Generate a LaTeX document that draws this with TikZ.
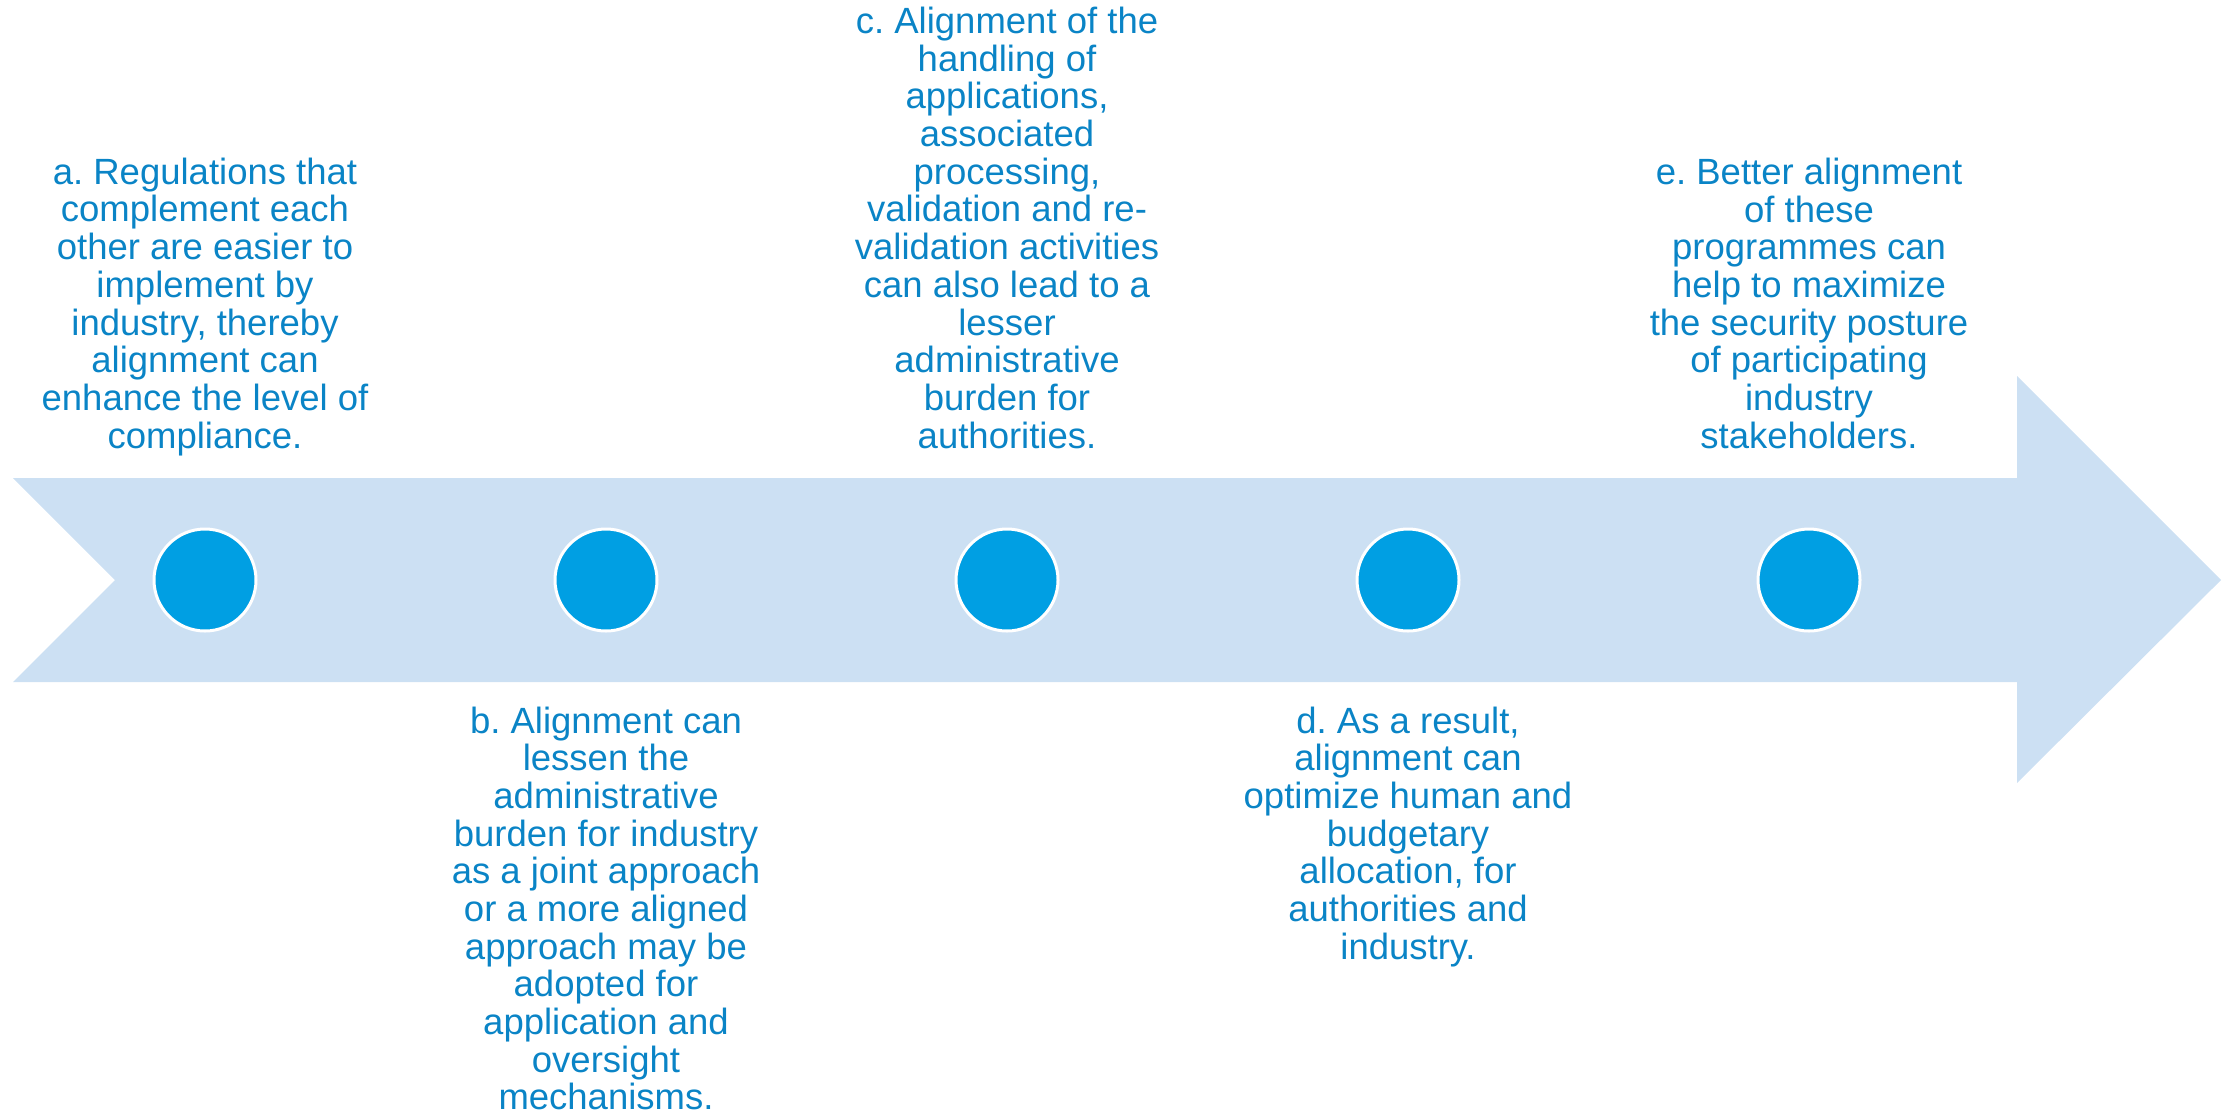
\documentclass[tikz,border=0pt]{standalone}
\usepackage{fontspec}
\setmainfont{Liberation Sans}
\frenchspacing
\definecolor{txtblue}{RGB}{10,132,198}
\definecolor{arrowfill}{RGB}{204,224,243}
\definecolor{dotblue}{RGB}{0,159,227}
\newcommand{\steptext}[2]{{\fontsize{36.5}{37.4}\selectfont\frenchspacing\renewcommand{\arraystretch}{1}\begin{tabular}[#1]{@{}c@{}}#2\end{tabular}}}
\tikzset{
  bodyarrow/.style={fill=arrowfill, draw=none},
  dot/.style={circle, fill=dotblue, draw=white, line width=3pt, minimum size=102pt, inner sep=0pt},
  toptext/.style={text=txtblue, anchor=base, inner sep=0pt},
  bottext/.style={text=txtblue, anchor=base, inner sep=0pt}
}
\begin{document}
\begin{tikzpicture}[x=1pt,y=-1pt]
\useasboundingbox (0,0) rectangle (2223,1109);
\fill[bodyarrow] (13,478) -- (2017,478) -- (2017,376) -- (2221,580) -- (2017,783) -- (2017,682) -- (13,682) -- (115,580) -- cycle;
\node[dot] (c1) at (205,580) {};
\node[dot] (c2) at (606,580) {};
\node[dot] (c3) at (1007,580) {};
\node[dot] (c4) at (1408,580) {};
\node[dot] (c5) at (1809,580) {};
\node[toptext] (ta) at (205,448) {\steptext{b}{a. Regulations that\\complement each\\other are easier to\\implement by\\industry, thereby\\alignment can\\enhance the level of\\compliance.}};
\node[bottext] (tb) at (606,733) {\steptext{t}{b. Alignment can\\lessen the\\administrative\\burden for industry\\as a joint approach\\or a more aligned\\approach may be\\adopted for\\application and\\oversight\\mechanisms.}};
\node[toptext] (tc) at (1007,448) {\steptext{b}{c. Alignment of the\\handling of\\applications,\\associated\\processing,\\validation and re-\\validation activities\\can also lead to a\\lesser\\administrative\\burden for\\authorities.}};
\node[bottext] (td) at (1408,733) {\steptext{t}{d. As a result,\\alignment can\\optimize human and\\budgetary\\allocation, for\\authorities and\\industry.}};
\node[toptext] (te) at (1809,448) {\steptext{b}{e. Better alignment\\of these\\programmes can\\help to maximize\\the security posture\\of participating\\industry\\stakeholders.}};
\end{tikzpicture}
\end{document}
